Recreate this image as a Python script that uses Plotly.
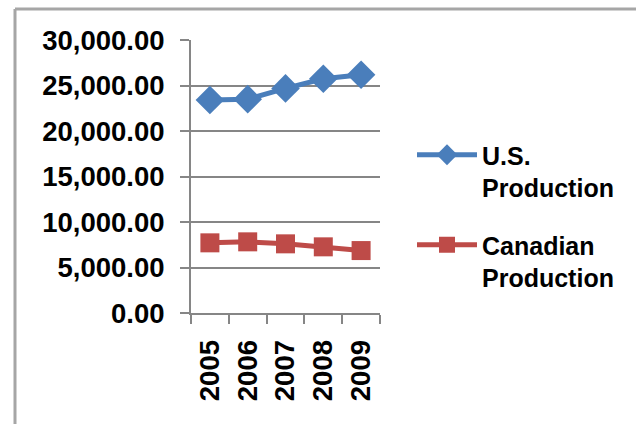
import plotly.graph_objects as go

years = ["2005", "2006", "2007", "2008", "2009"]
us_production = [23400, 23500, 24680, 25740, 26180]
canadian_production = [7710, 7820, 7600, 7270, 6860]
series_names = ["U.S.<br>Production", "Canadian<br>Production"]

GRID = "#868686"
TICKFONT = dict(family="Liberation Sans", size=27.5, color="black", weight="bold")
LEGFONT = dict(family="Liberation Sans", size=25, color="black", weight="bold")

fig = go.Figure()
fig.add_trace(go.Scatter(
    x=years, y=us_production, name=series_names[0], mode="lines+markers",
    legendgroup="us",
    line=dict(color="#4A7EBB", width=5),
    marker=dict(symbol="diamond", size=22, color="#4A7EBB"),
))
fig.add_trace(go.Scatter(
    x=years, y=canadian_production, name=series_names[1], mode="lines+markers",
    legendgroup="ca",
    line=dict(color="#BE4B48", width=5),
    marker=dict(symbol="square", size=19, color="#BE4B48"),
))

L, R, T, B = 191, 380, 40, 313
W, H = 636, 424
pw, ph = R - L, B - T

def px(x):
    return (x - L) / pw

def py(y):
    return (B - y) / ph

fig.update_layout(
    width=W, height=H,
    margin=dict(l=L, r=W - R, t=T, b=H - B, pad=0),
    paper_bgcolor="white", plot_bgcolor="white",
    font=TICKFONT,
    showlegend=True,
    legend=dict(
        x=px(412), y=py(132), xanchor="left", yanchor="top",
        font=LEGFONT, valign="top", itemwidth=60, tracegroupgap=22,
        bgcolor="rgba(0,0,0,0)",
    ),
    xaxis=dict(
        type="category", tickson="boundaries", range=[-0.5, 4.5],
        showgrid=False, showline=True, linecolor=GRID, linewidth=2,
        ticks="outside", ticklen=9, tickwidth=2, tickcolor=GRID,
        tickangle=-90, tickfont=TICKFONT, ticklabelstandoff=14,
    ),
    yaxis=dict(
        range=[0, 30000], dtick=5000, tickformat=",.2f",
        showgrid=True, gridcolor=GRID, gridwidth=2,
        showline=True, linecolor=GRID, linewidth=2,
        ticks="outside", ticklen=9, tickwidth=2, tickcolor=GRID,
        tickfont=TICKFONT, ticklabelstandoff=10, zeroline=False,
    ),
    shapes=[
        dict(type="line", xref="paper", yref="paper",
             x0=px(15), x1=px(700), y0=py(9), y1=py(9),
             line=dict(color="#A6A6A6", width=3)),
        dict(type="line", xref="paper", yref="paper",
             x0=px(15), x1=px(15), y0=py(9), y1=py(500),
             line=dict(color="#A6A6A6", width=3)),
    ],
)

fig.write_html("out.html", config={"displayModeBar": False},
               post_script="document.body.style.margin='0';")
